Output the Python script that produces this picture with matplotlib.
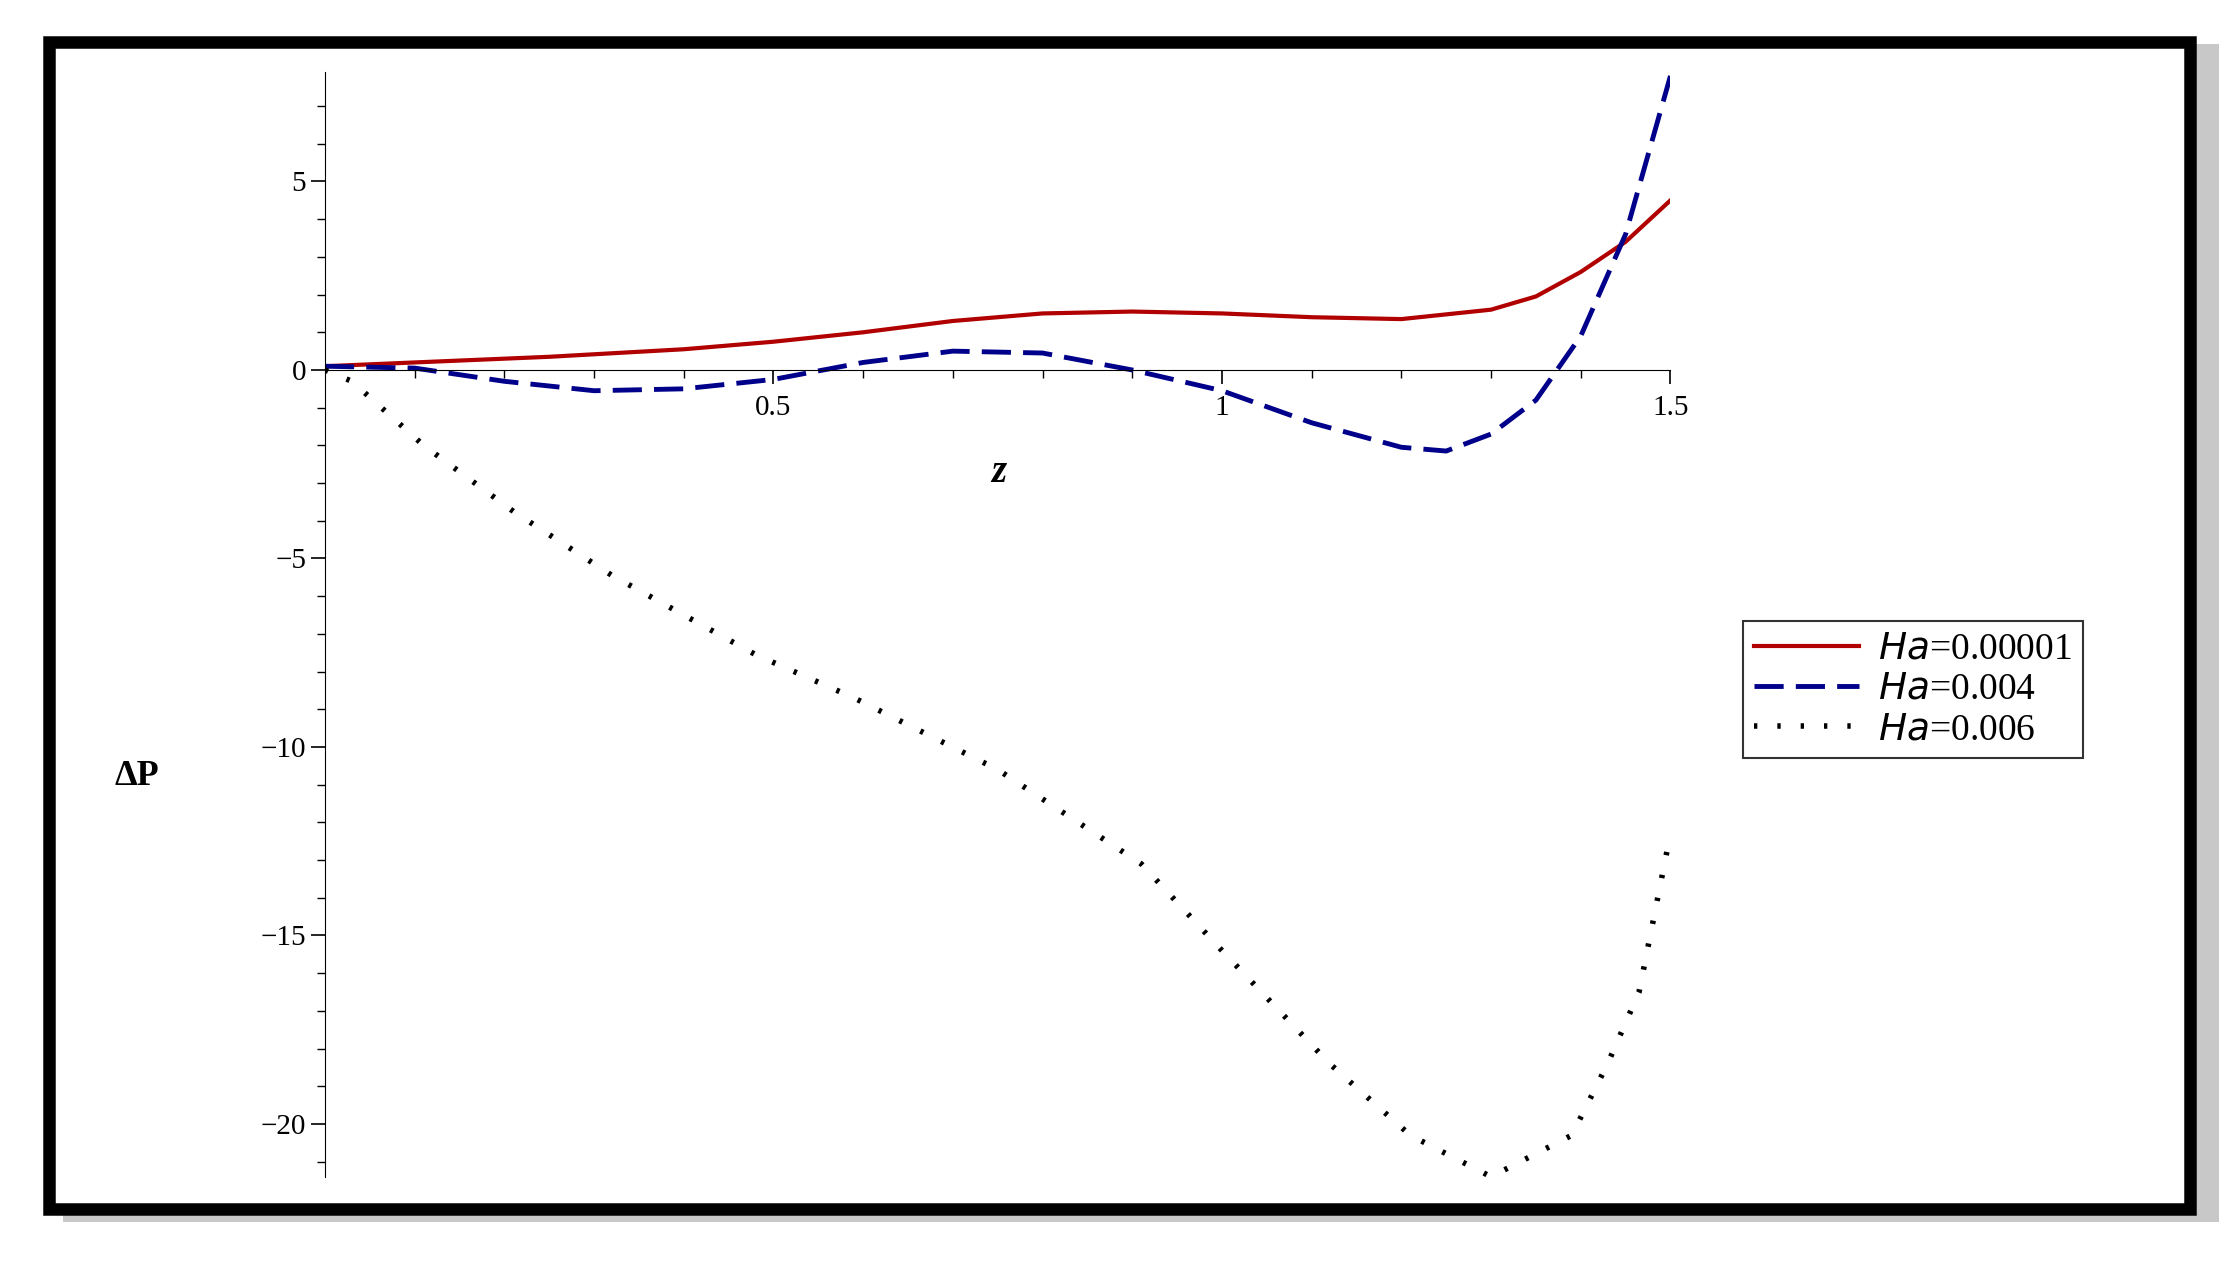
import matplotlib
matplotlib.use("Agg")
import matplotlib.pyplot as plt
from matplotlib.patches import Rectangle

# values
z_red = [0.0, 0.1, 0.25, 0.4, 0.5, 0.6, 0.7, 0.8, 0.9, 1.0, 1.1, 1.2, 1.3, 1.35, 1.4, 1.45, 1.5]
dp_red = [0.1, 0.2, 0.35, 0.55, 0.75, 1.0, 1.3, 1.5, 1.55, 1.5, 1.4, 1.35, 1.6, 1.95, 2.6, 3.4, 4.5]

z_blue = [0.0, 0.1, 0.2, 0.3, 0.4, 0.5, 0.6, 0.7, 0.8, 0.9, 1.0, 1.1, 1.2, 1.25, 1.3, 1.35, 1.4, 1.45, 1.5]
dp_blue = [0.1, 0.05, -0.3, -0.55, -0.5, -0.25, 0.2, 0.5, 0.45, 0.0, -0.55, -1.4, -2.05, -2.15, -1.7, -0.8, 0.9, 3.6, 7.8]

z_black = [0.0, 0.03, 0.11, 0.21, 0.32, 0.48, 0.59, 0.75, 0.91, 1.0, 1.12, 1.21, 1.30, 1.39, 1.43, 1.465, 1.5]
dp_black = [0.0, -0.3, -2.0, -3.75, -5.45, -7.55, -8.7, -10.6, -13.1, -15.4, -18.4, -20.3, -21.4, -20.3, -18.4, -16.5, -12.3]

labels = [r"$\it{Ha}$=0.00001", r"$\it{Ha}$=0.004", r"$\it{Ha}$=0.006"]

plt.rcParams['font.family'] = ['Liberation Serif', 'DejaVu Serif']
fig = plt.figure(figsize=(22.35, 12.66), dpi=100)

# shadow + frame, kept beneath the axes
fig.patches.append(Rectangle((0.028, 0.035), 0.965, 0.93, transform=fig.transFigure,
                             facecolor='#c8c8c8', edgecolor='none', zorder=-2))
fig.patches.append(Rectangle((0.022, 0.045), 0.958, 0.922, transform=fig.transFigure,
                             facecolor='white', edgecolor='black', linewidth=9, zorder=-1))

ax = fig.add_axes([0.1454, 0.0705, 0.602, 0.8725])
ax.set_facecolor('none')
ax.plot(z_red, dp_red, color='#b00000', lw=3, label=labels[0])
ax.plot(z_blue, dp_blue, color='#00008b', lw=3.5, dashes=(6, 2.5), label=labels[1])
ax.plot(z_black, dp_black, color='black', lw=4, linestyle=(0, (0.6, 3.6)),
        dash_capstyle='butt', label=labels[2])

ax.set_xlim(0, 1.5)
ax.set_ylim(-21.4, 7.9)
ax.spines['top'].set_visible(False)
ax.spines['right'].set_visible(False)
ax.spines['bottom'].set_position(('data', 0))
ax.set_xticks([0.5, 1, 1.5])
ax.set_xticklabels(['0.5', '1', '1.5'])
ax.set_xticks([i / 10 for i in range(1, 16)], minor=True)
ax.set_yticks([5, 0, -5, -10, -15, -20])
ax.set_yticklabels(['5', '0', '\u22125', '\u221210', '\u221215', '\u221220'])
ax.set_yticks(range(-21, 8), minor=True)
ax.tick_params(labelsize=21, length=10, width=1.2, direction='out')
ax.tick_params(which='minor', length=6, width=1)
ax.tick_params(axis='x', pad=8)

fig.text(0.447, 0.627, 'z', fontsize=28, fontweight='bold', style='italic', ha='center', va='center')
fig.text(0.061, 0.387, '\u0394P', fontsize=26, fontweight='bold', ha='center', va='center')

leg = ax.legend(loc='upper left', bbox_to_anchor=(1.04, 0.52), fontsize=27, frameon=True,
                fancybox=False, edgecolor='black', handlelength=2.8, borderpad=0.3,
                labelspacing=0.15, handletextpad=0.5)
leg.get_frame().set_linewidth(1.5)

fig.savefig('out.png', dpi=100)
